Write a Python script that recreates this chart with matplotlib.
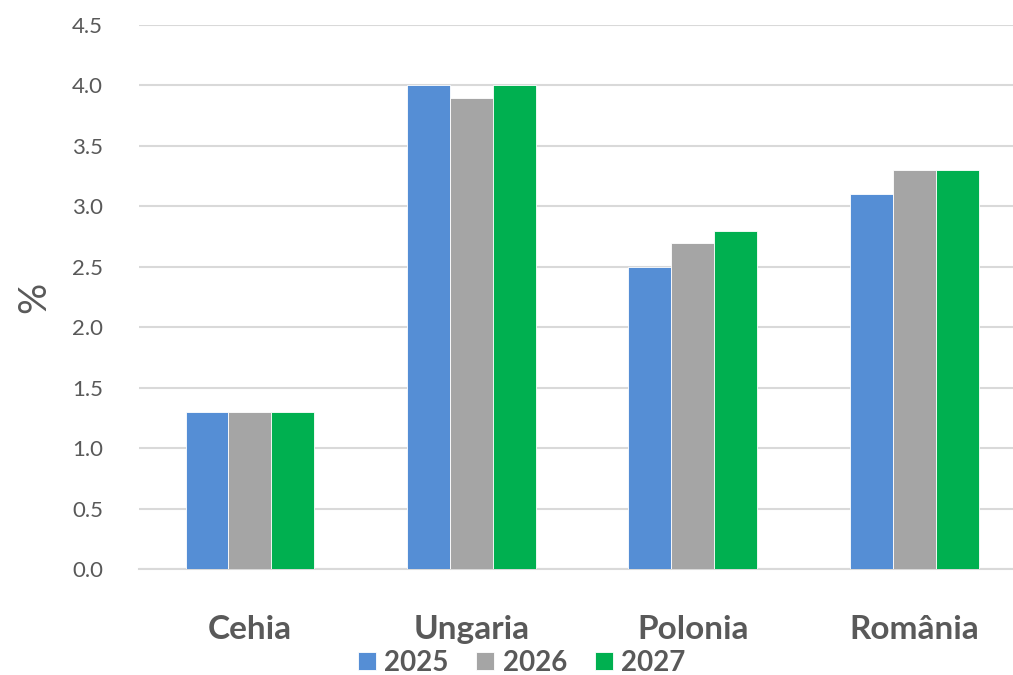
import matplotlib
matplotlib.use('Agg')
import matplotlib.pyplot as plt
import numpy as np

# Data
countries = ['Cehia', 'Ungaria', 'Polonia', 'România']
years = ['2025', '2026', '2027']
v2025 = [1.3, 4.0, 2.5, 3.1]
v2026 = [1.3, 3.9, 2.7, 3.3]
v2027 = [1.3, 4.0, 2.8, 3.3]
colors = ['#558ED5', '#A5A5A5', '#00B050']

plt.rcParams['font.family'] = ['Lato', 'DejaVu Sans']
text_color = '#595959'

fig = plt.figure(figsize=(10.13, 6.75), dpi=100)
ax = fig.add_axes([139 / 1013, 1 - 569 / 675, 874 / 1013, 544 / 675])

x = np.arange(len(countries))
w = 0.194
for i, (vals, lab) in enumerate(zip([v2025, v2026, v2027], years)):
    ax.bar(x + (i - 1) * w, vals, width=w, color=colors[i], label=lab,
           edgecolor='white', linewidth=0.6, zorder=3)

ax.set_ylim(0, 4.5)
ax.set_xlim(-0.501, 3.445)
ax.set_yticks(np.arange(0, 4.51, 0.5))
ax.set_yticklabels([f'{t:.1f}' for t in np.arange(0, 4.51, 0.5)])
ax.yaxis.grid(True, color='#D9D9D9', linewidth=1.5, zorder=0)
ax.set_axisbelow(True)
for s in ['top', 'right', 'left']:
    ax.spines[s].set_visible(False)
ax.spines['bottom'].set_color('#D9D9D9')
ax.spines['bottom'].set_linewidth(1.5)
ax.tick_params(axis='y', length=0, labelsize=16, colors=text_color, pad=26)
ax.tick_params(axis='x', length=0, pad=33)
ax.set_xticks(x)
ax.set_xticklabels(countries, fontsize=24, fontweight='bold', color=text_color)
ax.set_ylabel('%', fontsize=28, color=text_color, labelpad=14)

leg = fig.legend(loc='center', ncol=3, frameon=False, bbox_to_anchor=(0.515, 0.018),
                 prop={'size': 20, 'weight': 'bold'}, handlelength=0.65, handleheight=0.65,
                 handletextpad=0.3, columnspacing=1.0, borderpad=0, borderaxespad=0)
for t in leg.get_texts():
    t.set_color(text_color)

fig.savefig('out.png', dpi=100)
